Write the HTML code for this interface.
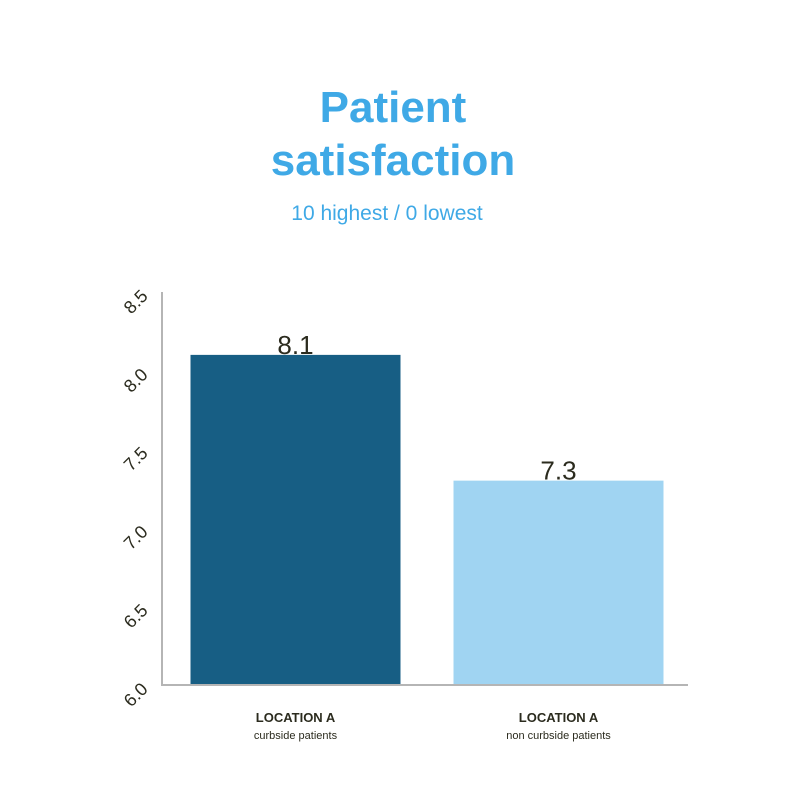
<!DOCTYPE html>
<html><head><meta charset="utf-8"><style>
body{margin:0;background:#fff;font-family:"Liberation Sans",sans-serif}
</style></head><body>
<svg width="800" height="800" xmlns="http://www.w3.org/2000/svg">
<text x="393" y="122" text-anchor="middle" font-size="44" font-weight="bold" fill="#3fa9e6">Patient</text>
<text x="393" y="175" text-anchor="middle" font-size="44" font-weight="bold" fill="#3fa9e6">satisfaction</text>
<text x="387" y="220" text-anchor="middle" font-size="21" fill="#3fa9e6">10 highest / 0 lowest</text>
<g id="plot"></g>
</svg>
<script>
const categories=["LOCATION A","LOCATION A"];
const subLabels=["curbside patients","non curbside patients"];
const values=[8.1,7.3];
const ticks=[6.0,6.5,7.0,7.5,8.0,8.5];
const tickLabels=["6.0","6.5","7.0","7.5","8.0","8.5"];
const colors=["#175e84","#a0d4f2"];
const NS="http://www.w3.org/2000/svg";
const g=document.getElementById('plot');
const x0=162,x1=688,yB=685,yT=292,vMin=6,vMax=8.5;
const y=v=>yB-(v-vMin)/(vMax-vMin)*(yB-yT);
const band=(x1-x0)/categories.length, bw=210;
function el(t,a,txt){const e=document.createElementNS(NS,t);for(const k in a)e.setAttribute(k,a[k]);if(txt!==undefined)e.textContent=txt;g.appendChild(e);return e;}
values.forEach((v,i)=>{
 const cx=x0+band*(i+0.5)+2;
 const r=el('rect',{x:cx-bw/2,y:y(v),width:bw,height:yB-y(v),fill:colors[i]});
 
 
 const t=el('text',{x:cx,y:y(v)-1,'text-anchor':'middle','font-size':26,fill:'#2b2b1e'},v.toFixed(1));
 
 
 const c=el('text',{x:cx,y:722,'text-anchor':'middle','font-size':13,'font-weight':'bold',fill:'#2b2b1e'},categories[i]);
 
 
 const s=el('text',{x:cx,y:739,'text-anchor':'middle','font-size':11,fill:'#2b2b1e'},subLabels[i]);
 
 
});
const ax=el('path',{d:`M${x0} ${yT}V${yB}H${x1}`,fill:'none',stroke:'#b5b5b5','stroke-width':2});


ticks.forEach((v,i)=>{
 const t=el('text',{x:0,y:0,'text-anchor':'middle','font-size':18,fill:'#2b2b1e',transform:`translate(140,${y(v)+14}) rotate(-45)`},tickLabels[i]);
 
 
});
</script>
</body></html>
